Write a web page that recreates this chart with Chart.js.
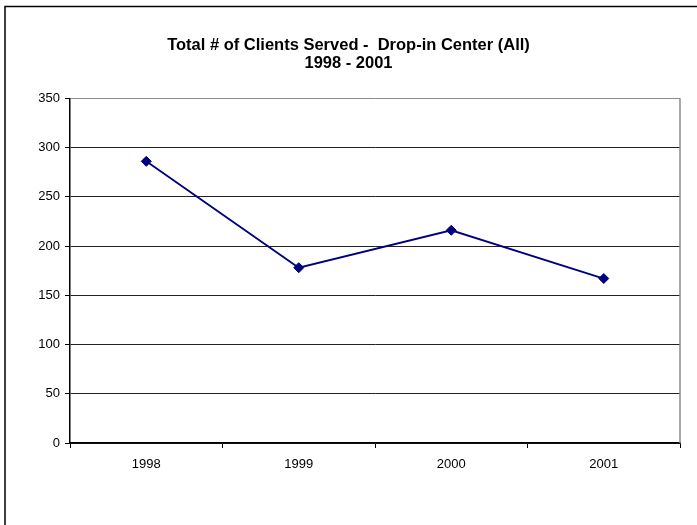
<!DOCTYPE html>
<html>
<head>
<meta charset="utf-8">
<script src="https://cdn.jsdelivr.net/npm/chart.js@4/dist/chart.umd.min.js"></script>
<style>
  html, body { margin: 0; padding: 0; background: #fff; }
  #wrap { width: 697px; height: 525px; position: relative; }
</style>
</head>
<body>
<div id="wrap"><canvas id="c" width="697" height="525"></canvas></div>
<script>
// Drop-in Center client totals by year
const years = ['1998', '1999', '2000', '2001'];
const clientsServed = [286, 178, 216, 167];
const yTicks = [0, 50, 100, 150, 200, 250, 300, 350];
const titleLines = ['Total # of Clients Served -  Drop-in Center (All)', '1998 - 2001'];

const FONT = "'Liberation Sans', Arial, sans-serif";

// White page with a thin frame along the top and left edges,
// plus the grey right edge of the plot area.
const framePlugin = {
  id: 'frame',
  beforeDraw(chart) {
    const ctx = chart.ctx;
    ctx.save();
    ctx.fillStyle = '#fff';
    ctx.fillRect(0, 0, chart.width, chart.height);
    ctx.strokeStyle = '#000';
    ctx.lineWidth = 1.5;
    ctx.beginPath();
    ctx.moveTo(5, chart.height + 2);
    ctx.lineTo(5, 6.5);
    ctx.lineTo(chart.width + 2, 6.5);
    ctx.stroke();
    ctx.restore();
  },
  afterDraw(chart) {
    const { ctx, chartArea } = chart;
    ctx.save();
    ctx.strokeStyle = '#8c8c8c';
    ctx.lineWidth = 1.5;
    ctx.beginPath();
    ctx.moveTo(chartArea.right, chartArea.top);
    ctx.lineTo(chartArea.right, chartArea.bottom);
    ctx.stroke();
    ctx.restore();
  }
};

new Chart(document.getElementById('c'), {
  type: 'line',
  data: {
    labels: years,
    datasets: [{
      data: clientsServed,
      borderColor: '#000080',
      backgroundColor: '#000080',
      borderWidth: 1.8,
      pointStyle: 'rectRot',
      pointRadius: 5,
      pointBorderWidth: 1,
      tension: 0
    }]
  },
  options: {
    responsive: false,
    animation: false,
    events: [],
    layout: { padding: { left: 17, right: 17, top: 0, bottom: 0 } },
    plugins: {
      legend: { display: false },
      tooltip: { enabled: false },
      title: {
        display: true,
        text: titleLines,
        color: '#000',
        font: { family: FONT, size: 16.5, weight: 'bold', lineHeight: 1.1 },
        padding: { top: 36, bottom: 26 }
      }
    },
    scales: {
      x: {
        offset: true,
        grid: {
          offset: true,
          drawOnChartArea: false,
          drawTicks: true,
          tickLength: 5,
          tickColor: '#000'
        },
        border: { display: true, color: '#000', width: 1.5 },
        ticks: {
          color: '#000',
          padding: 9,
          font: { family: FONT, size: 13 }
        },
        afterFit(scale) { scale.height = 82; }
      },
      y: {
        min: 0,
        max: 350,
        afterBuildTicks(scale) { scale.ticks = yTicks.map(v => ({ value: v })); },
        grid: {
          color: ctx => (ctx.tick && ctx.tick.value === 350) ? '#8c8c8c' : '#222',
          lineWidth: 1,
          drawTicks: true,
          tickLength: 5,
          tickColor: '#000'
        },
        border: { display: true, color: '#000', width: 1.5 },
        ticks: {
          color: '#000',
          padding: 5,
          font: { family: FONT, size: 13 }
        },
        afterFit(scale) { scale.width = 53; }
      }
    }
  },
  plugins: [framePlugin]
});
</script>
</body>
</html>
